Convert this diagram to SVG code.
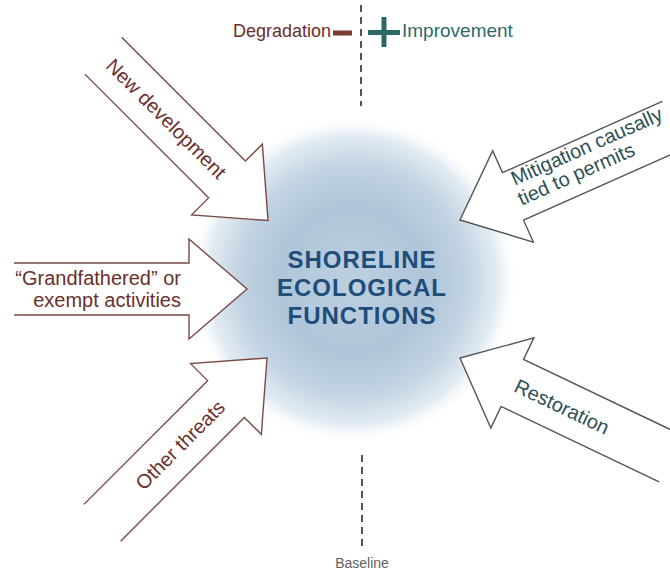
<svg xmlns="http://www.w3.org/2000/svg" xmlns:xlink="http://www.w3.org/1999/xlink" width="670" height="571" viewBox="0 0 670 571">
  <style>
    .bg { fill: #ffffff; }
    .arrow-deg { fill: #ffffff; stroke: #7a4a45; stroke-width: 1.4; stroke-linejoin: miter; }
    .arrow-imp { fill: #ffffff; stroke: #4f5656; stroke-width: 1.4; stroke-linejoin: miter; }
    .lbl-deg { font-family: "Liberation Sans", Arial, sans-serif; font-size: 20px; fill: #6b2f2b; }
    .lbl-imp { font-family: "Liberation Sans", Arial, sans-serif; font-size: 20px; fill: #2c4f56; }
    .center-text { font-family: "Liberation Sans", Arial, sans-serif; font-size: 24px; font-weight: bold; fill: #1f4d7a; letter-spacing: 1px; }
    .axis { stroke: #555555; stroke-width: 2; stroke-dasharray: 7 5; fill: none; }
    .legend-deg { font-family: "Liberation Sans", Arial, sans-serif; font-size: 18px; fill: #6b2e2a; }
    .legend-imp { font-family: "Liberation Sans", Arial, sans-serif; font-size: 19px; fill: #2f6a6a; }
    .baseline-lbl { font-family: "Liberation Sans", Arial, sans-serif; font-size: 14px; fill: #5f5f5f; }
  </style>
  <defs>
    <radialGradient id="glow" cx="0.5" cy="0.5" r="0.5">
      <stop offset="0" stop-color="#bdd0e0"/>
      <stop offset="0.45" stop-color="#afc5d9"/>
      <stop offset="0.7" stop-color="#c3d4e3"/>
      <stop offset="0.88" stop-color="#e4ecf3"/>
      <stop offset="1" stop-color="#ffffff" stop-opacity="0"/>
    </radialGradient>
    <path id="blockArrow" d="M -233,-26 L -58,-26 L -58,-50 L 0,0 L -58,50 L -58,26 L -233,26"/>
  </defs>

  <rect class="bg" x="0" y="0" width="670" height="571"/>

  <g id="shoreline-ecological-functions">
    <circle cx="353" cy="280" r="165" fill="url(#glow)"/>
    <text class="center-text" x="362" y="268" text-anchor="middle">SHORELINE</text>
    <text class="center-text" x="362" y="296" text-anchor="middle">ECOLOGICAL</text>
    <text class="center-text" x="362" y="324" text-anchor="middle">FUNCTIONS</text>
  </g>

  <g id="baseline-axis">
    <line class="axis" x1="361" y1="5" x2="361" y2="106"/>
    <line class="axis" x1="362" y1="455" x2="362" y2="549"/>
    <text class="baseline-lbl" x="362" y="568" text-anchor="middle">Baseline</text>
  </g>

  <g id="legend">
    <text class="legend-deg" x="331" y="37" text-anchor="end">Degradation</text>
    <rect x="333" y="30.5" width="19" height="5" fill="#7a3b33"/>
    <rect x="368" y="30" width="32" height="5" fill="#2b6868"/>
    <rect x="381.5" y="17" width="5" height="30" fill="#2b6868"/>
    <text class="legend-imp" x="402" y="37">Improvement</text>
  </g>

  <g id="new-development" transform="translate(268,220.5) rotate(45)">
    <use href="#blockArrow" class="arrow-deg"/>
    <text class="lbl-deg" x="-144" y="7" text-anchor="middle">New development</text>
  </g>

  <g id="grandfathered-exempt">
    <use href="#blockArrow" class="arrow-deg" transform="translate(247,289)"/>
    <text class="lbl-deg" x="181" y="285" text-anchor="end">“Grandfathered” or</text>
    <text class="lbl-deg" x="181" y="307" text-anchor="end">exempt activities</text>
  </g>

  <g id="other-threats" transform="translate(267,358) rotate(-45)">
    <use href="#blockArrow" class="arrow-deg"/>
    <text class="lbl-deg" x="-123" y="7" text-anchor="middle">Other threats</text>
  </g>

  <g id="mitigation">
    <use href="#blockArrow" class="arrow-imp" transform="translate(460,220) rotate(156)"/>
    <g transform="translate(460,220) rotate(-24)">
      <text class="lbl-imp" x="64" y="-9">Mitigation causally</text>
      <text class="lbl-imp" x="62" y="12">tied to permits</text>
    </g>
  </g>

  <g id="restoration">
    <use href="#blockArrow" class="arrow-imp" transform="translate(460,358) rotate(205.5)"/>
    <g transform="translate(460,358) rotate(25.5)">
      <text class="lbl-imp" x="113" y="7" text-anchor="middle">Restoration</text>
    </g>
  </g>
</svg>
